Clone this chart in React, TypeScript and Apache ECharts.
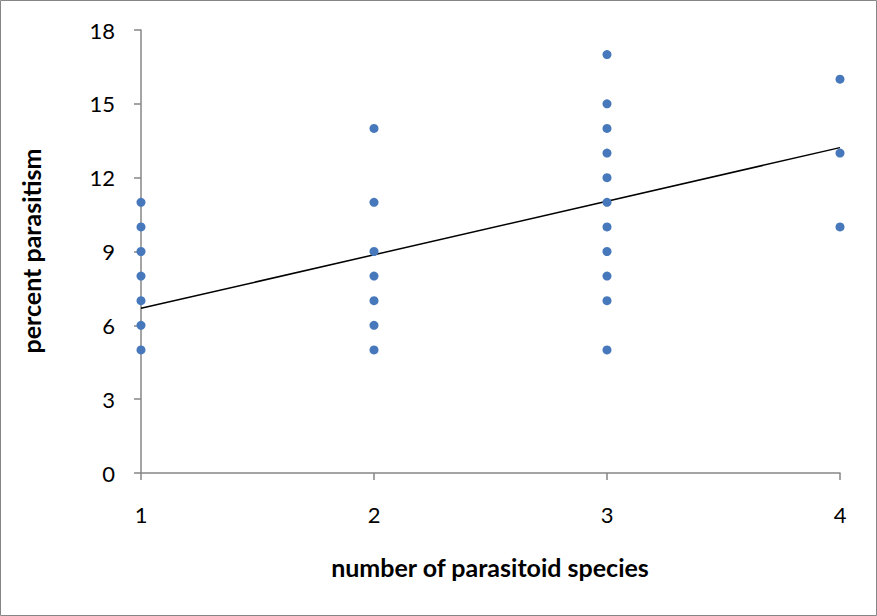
import React, { useEffect, useRef } from "react";
import * as echarts from "echarts";

const speciesCounts = [1, 2, 3, 4];
const parasitismAt1 = [5, 6, 7, 8, 9, 10, 11];
const parasitismAt2 = [5, 6, 7, 8, 9, 11, 14];
const parasitismAt3 = [5, 7, 8, 9, 10, 11, 12, 13, 14, 15, 17];
const parasitismAt4 = [10, 13, 16];
const trendX = [1, 4];
const trendY = [6.69, 13.22];
const yTicks = [0, 3, 6, 9, 12, 15, 18];

const FONT = "Lato, 'Open Sans', sans-serif";

export default function App() {
  const ref = useRef<HTMLDivElement>(null);
  useEffect(() => {
    if (!ref.current) return;
    const chart = echarts.init(ref.current, undefined, { renderer: "svg" });
    const groups = [parasitismAt1, parasitismAt2, parasitismAt3, parasitismAt4];
    const points: number[][] = [];
    groups.forEach((g, i) => g.forEach((v) => points.push([speciesCounts[i], v])));
    const axisColor = "#868686";
    chart.setOption({
      animation: false,
      backgroundColor: "#ffffff",
      grid: { left: 141, right: 37, top: 30, bottom: 143 },
      xAxis: {
        type: "value",
        min: speciesCounts[0],
        max: speciesCounts[speciesCounts.length - 1],
        interval: 1,
        axisLine: { show: true, lineStyle: { color: axisColor, width: 1.5 } },
        axisTick: { show: true, length: 7, lineStyle: { color: axisColor, width: 1.5 } },
        axisLabel: { color: "#000", fontSize: 22, fontFamily: FONT, margin: 30 },
        splitLine: { show: false },
      },
      yAxis: {
        type: "value",
        min: yTicks[0],
        max: yTicks[yTicks.length - 1],
        interval: 3,
        axisLine: { show: true, lineStyle: { color: axisColor, width: 1.5 } },
        axisTick: { show: true, length: 7, lineStyle: { color: axisColor, width: 1.5 } },
        axisLabel: { color: "#000", fontSize: 22, fontFamily: FONT, margin: 26 },
        splitLine: { show: false },
      },
      graphic: [
        {
          type: "rect",
          shape: { x: 0.5, y: 0.5, width: 876, height: 615 },
          style: { fill: "none", stroke: axisColor, lineWidth: 1 },
          silent: true,
        },
        {
          type: "text",
          x: 31,
          y: 251,
          rotation: Math.PI / 2,
          style: {
            text: "percent parasitism",
            fontSize: 25,
            fontWeight: "bold",
            fontFamily: FONT,
            fill: "#000",
            align: "center",
            verticalAlign: "middle",
          },
        },
        {
          type: "text",
          x: 490,
          y: 567,
          style: {
            text: "number of parasitoid species",
            fontSize: 25,
            fontWeight: "bold",
            fontFamily: FONT,
            fill: "#000",
            align: "center",
            verticalAlign: "middle",
          },
        },
      ],
      series: [
        {
          type: "scatter",
          data: points,
          symbolSize: 9,
          itemStyle: { color: "#4678BB", opacity: 1 },
          z: 3,
        },
        {
          type: "line",
          data: trendX.map((x, i) => [x, trendY[i]]),
          showSymbol: false,
          symbol: "none",
          lineStyle: { color: "#000", width: 1.5 },
          z: 2,
        },
      ],
    });
    return () => chart.dispose();
  }, []);
  return (
    <div
      ref={ref}
      style={{ position: "fixed", left: 0, top: 0, width: 877, height: 616, background: "#fff" }}
    />
  );
}
